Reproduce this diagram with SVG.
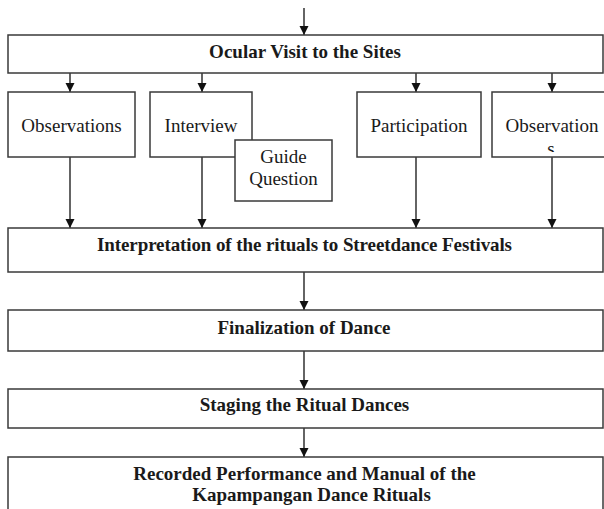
<svg xmlns="http://www.w3.org/2000/svg" width="604" height="509" viewBox="0 0 604 509">
<style>
.box{fill:#fff;stroke:#3a3a3a;stroke-width:1.5}
.t{font-family:"Times New Roman","Liberation Serif",serif;font-size:19px;fill:#1a1a1a;text-anchor:middle}
.b{font-weight:bold}
.c{stroke:#111;stroke-width:1.3;fill:none;marker-end:url(#ah)}
</style>
<defs>
<marker id="ah" markerUnits="userSpaceOnUse" markerWidth="10" markerHeight="10" refX="9" refY="4.5" orient="auto">
<path d="M0,0 L9,4.5 L0,9 z" fill="#111"/>
</marker>
<clipPath id="clipS"><rect x="492" y="92" width="120" height="60"/></clipPath>
</defs>
<rect width="604" height="509" fill="#fff"/>
<g id="connectors">
<line class="c" x1="304" y1="8" x2="304" y2="35"/>
<line class="c" x1="70" y1="73" x2="70" y2="92"/>
<line class="c" x1="202" y1="73" x2="202" y2="92"/>
<line class="c" x1="416" y1="73" x2="416" y2="92"/>
<line class="c" x1="552" y1="73" x2="552" y2="92"/>
<line class="c" x1="70" y1="157" x2="70" y2="228"/>
<line class="c" x1="202" y1="157" x2="202" y2="228"/>
<line class="c" x1="416" y1="157" x2="416" y2="228"/>
<line class="c" x1="552" y1="157" x2="552" y2="228"/>
<line class="c" x1="304" y1="272" x2="304" y2="310"/>
<line class="c" x1="304" y1="351" x2="304" y2="389"/>
<line class="c" x1="304" y1="428" x2="304" y2="457"/>
</g>
<g id="ocular">
<rect class="box" x="8" y="35" width="595" height="38"/>
<text class="t b" x="305" y="58">Ocular Visit to the Sites</text>
</g>
<g id="observations1">
<rect class="box" x="8" y="92" width="127" height="65"/>
<text class="t" x="71.5" y="132">Observations</text>
</g>
<g id="interview">
<rect class="box" x="150" y="92" width="102" height="65"/>
<text class="t" x="201" y="132">Interview</text>
</g>
<g id="guide">
<rect class="box" x="235" y="140" width="97" height="61"/>
<text class="t" x="283.5" y="163">Guide</text>
<text class="t" x="283.5" y="185">Question</text>
</g>
<g id="participation">
<rect class="box" x="357" y="92" width="124" height="65"/>
<text class="t" x="419" y="132">Participation</text>
</g>
<g id="observations2">
<rect class="box" x="492" y="92" width="120" height="65"/>
<text class="t" x="552" y="132">Observation</text>
<text class="t" x="551" y="155" clip-path="url(#clipS)">s</text>
</g>
<g id="interpretation">
<rect class="box" x="8" y="228" width="595" height="44"/>
<text class="t b" x="304.5" y="251" textLength="415" lengthAdjust="spacing">Interpretation  of the rituals  to Streetdance Festivals</text>
</g>
<g id="finalization">
<rect class="box" x="8" y="310" width="595" height="41"/>
<text class="t b" x="304" y="334">Finalization of Dance</text>
</g>
<g id="staging">
<rect class="box" x="8" y="389" width="595" height="39"/>
<text class="t b" x="304.5" y="411">Staging the Ritual Dances</text>
</g>
<g id="recorded">
<rect class="box" x="8" y="457" width="595" height="60"/>
<text class="t b" x="304.5" y="480">Recorded Performance and Manual of the</text>
<text class="t b" x="311.5" y="501">Kapampangan Dance Rituals</text>
</g>
</svg>
